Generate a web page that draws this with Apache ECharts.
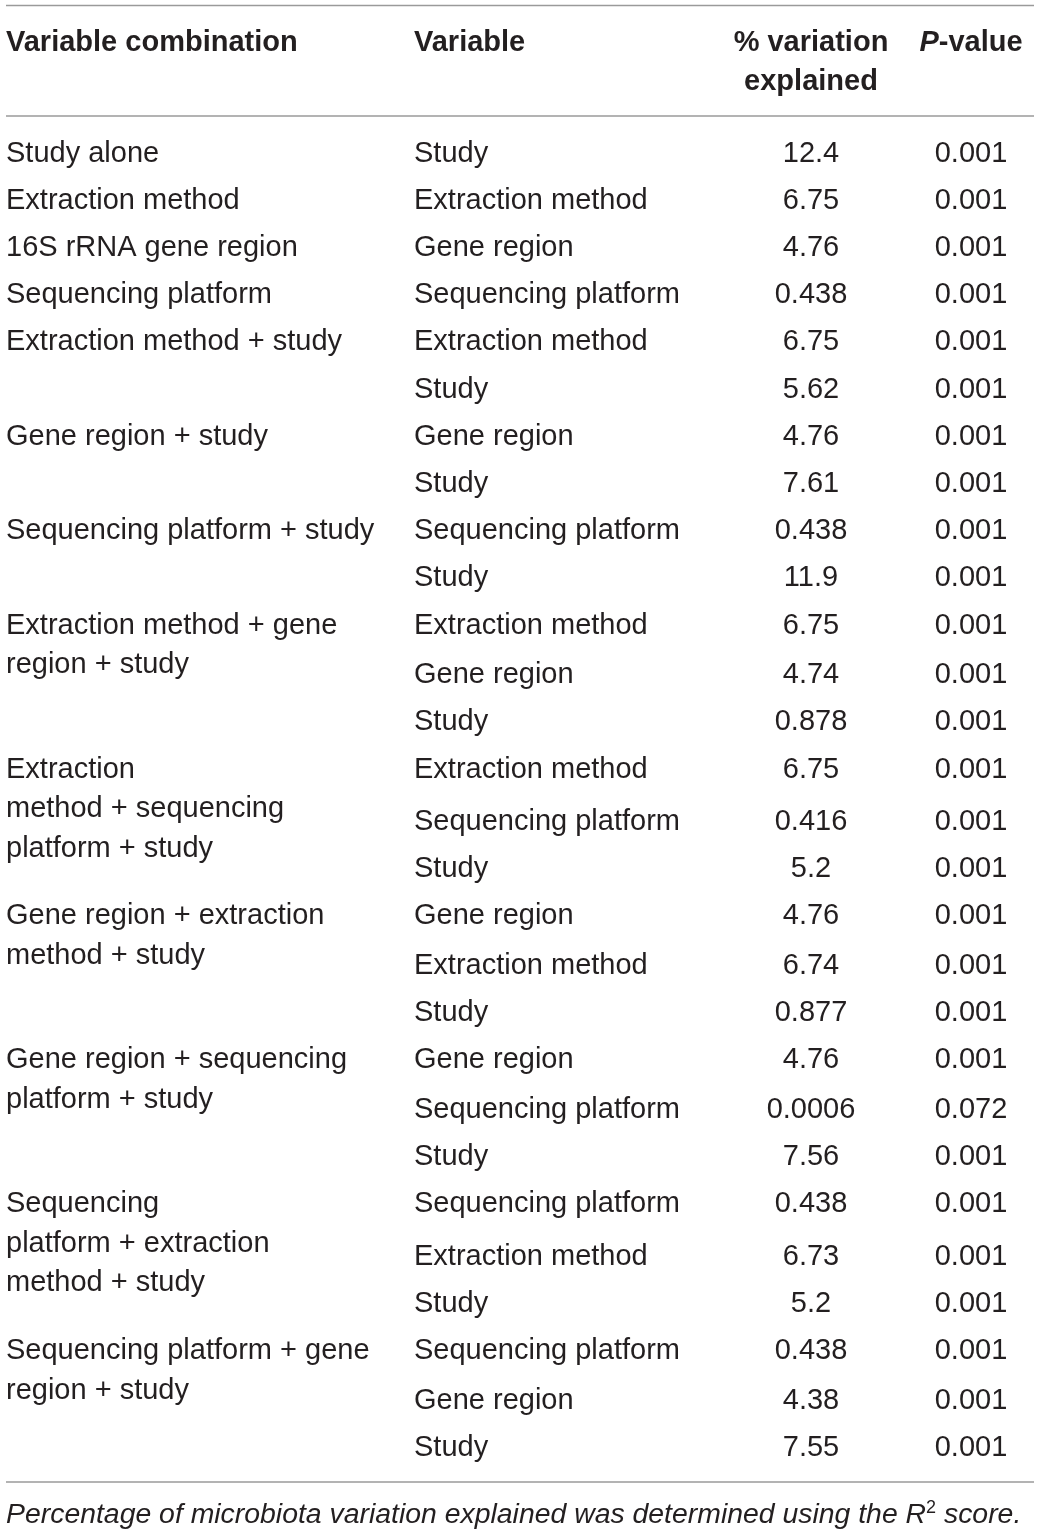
<!DOCTYPE html>
<html>
<head>
<meta charset="utf-8">
<script src="https://cdn.jsdelivr.net/npm/echarts@6/dist/echarts.min.js"></script>
<style>
html,body{margin:0;padding:0;background:#fff;}
#chart{width:1040px;height:1536px;}
</style>
</head>
<body>
<div id="chart"></div>
<script>
// ---- data ----
const headers = ["Variable combination", "Variable", "% variation|explained", "P-value"];
const comboLabels = [
  ["Study alone"],
  ["Extraction method"],
  ["16S rRNA gene region"],
  ["Sequencing platform"],
  ["Extraction method + study"],
  ["Gene region + study"],
  ["Sequencing platform + study"],
  ["Extraction method + gene", "region + study"],
  ["Extraction", "method + sequencing", "platform + study"],
  ["Gene region + extraction", "method + study"],
  ["Gene region + sequencing", "platform + study"],
  ["Sequencing", "platform + extraction", "method + study"],
  ["Sequencing platform + gene", "region + study"]
];
const groupSizes = [1, 1, 1, 1, 2, 2, 2, 3, 3, 3, 3, 3, 3];
const variables = [
  "Study", "Extraction method", "Gene region", "Sequencing platform",
  "Extraction method", "Study",
  "Gene region", "Study",
  "Sequencing platform", "Study",
  "Extraction method", "Gene region", "Study",
  "Extraction method", "Sequencing platform", "Study",
  "Gene region", "Extraction method", "Study",
  "Gene region", "Sequencing platform", "Study",
  "Sequencing platform", "Extraction method", "Study",
  "Sequencing platform", "Gene region", "Study"
];
const pctExplained = [
  "12.4", "6.75", "4.76", "0.438",
  "6.75", "5.62",
  "4.76", "7.61",
  "0.438", "11.9",
  "6.75", "4.74", "0.878",
  "6.75", "0.416", "5.2",
  "4.76", "6.74", "0.877",
  "4.76", "0.0006", "7.56",
  "0.438", "6.73", "5.2",
  "0.438", "4.38", "7.55"
];
const pValues = [
  "0.001", "0.001", "0.001", "0.001",
  "0.001", "0.001",
  "0.001", "0.001",
  "0.001", "0.001",
  "0.001", "0.001", "0.001",
  "0.001", "0.001", "0.001",
  "0.001", "0.001", "0.001",
  "0.001", "0.072", "0.001",
  "0.001", "0.001", "0.001",
  "0.001", "0.001", "0.001"
];
const footnote = "Percentage of microbiota variation explained was determined using the R";

// ---- layout ----
const FONT = '"Liberation Sans", Arial, Helvetica, sans-serif';
const FS = 29;
const FS_NOTE = 28.4;
const COLOR = '#231f20';
const RULE = '#9a9a9a';
const X0 = 6, X1 = 1034;
const colLeft1 = 6, colLeft2 = 414, colCenter3 = 811, colCenter4 = 971;
const firstRowY = 153.5, pitch = 47.2, lineGap = 39.5, dy = 1.5;

const els = [];
function txt(x, y, text, align, weight, style) {
  els.push({type: 'text', x: x, y: y, style: {
    text: text, fill: COLOR, font: (style || 'normal') + ' ' + (weight || 'normal') + ' ' + FS + 'px ' + FONT,
    align: align || 'left', verticalAlign: 'middle'}});
}
function rule(y) {
  els.push({type: 'line', shape: {x1: X0, y1: y, x2: X1, y2: y}, style: {stroke: RULE, lineWidth: 1.6}});
}

rule(5.5); rule(116); rule(1482);

// header
txt(colLeft1, 41 + dy, headers[0], 'left', 'bold');
txt(colLeft2, 41 + dy, headers[1], 'left', 'bold');
const h3 = headers[2].split('|');
txt(colCenter3, 41 + dy, h3[0], 'center', 'bold');
txt(colCenter3, 80 + dy, h3[1], 'center', 'bold');
els.push({type: 'text', x: colCenter4, y: 41 + dy, style: {
  text: '{i|P}{b|-value}', align: 'center', verticalAlign: 'middle',
  rich: {
    i: {fontFamily: FONT, fontSize: FS, fontWeight: 'bold', fontStyle: 'italic', fill: COLOR},
    b: {fontFamily: FONT, fontSize: FS, fontWeight: 'bold', fill: COLOR}
  }}});

// body
let row = 0, y = firstRowY;
groupSizes.forEach(function (size, g) {
  const lines = comboLabels[g];
  lines.forEach(function (l, k) { txt(colLeft1, y + k * lineGap, l, 'left'); });
  for (let r = 0; r < size; r++) {
    if (r === 1) y += 2.5 * (lines.length - 1);
    txt(colLeft2, y, variables[row], 'left');
    txt(colCenter3, y, pctExplained[row], 'center');
    txt(colCenter4, y, pValues[row], 'center');
    row++;
    y += pitch;
  }
});

// footnote
els.push({type: 'text', x: X0, y: 1515.5, style: {
  text: '{a|' + footnote + '}{s|2}{a| score.}', align: 'left', verticalAlign: 'middle',
  rich: {
    a: {fontFamily: FONT, fontSize: FS_NOTE, fontStyle: 'italic', fill: COLOR},
    s: {fontFamily: FONT, fontSize: 18, fontStyle: 'normal', fill: COLOR, verticalAlign: 'top', padding: [0, 0, 14, 0]}
  }}});

const chart = echarts.init(document.getElementById('chart'), null, {renderer: 'canvas'});
chart.setOption({backgroundColor: '#ffffff', graphic: {elements: els}});
</script>
</body>
</html>
